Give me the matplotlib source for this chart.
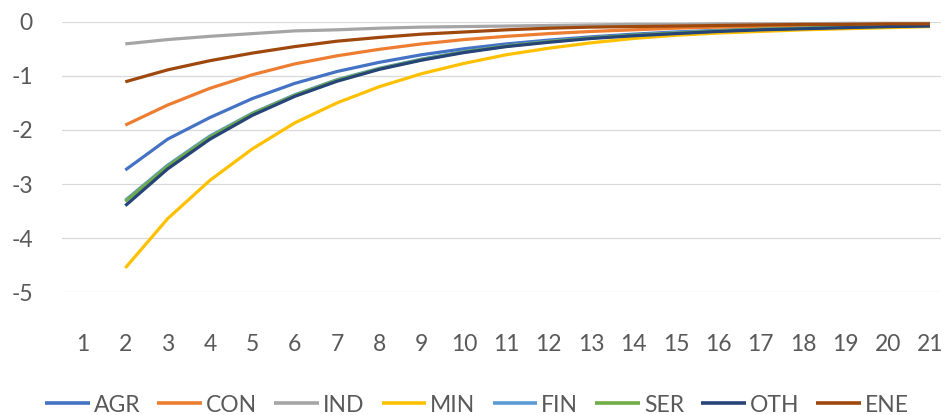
import numpy as np
import matplotlib
matplotlib.use("Agg")
import matplotlib.pyplot as plt

plt.rcParams['font.family'] = ['Lato', 'DejaVu Sans']

# ---- data (periods 1..21, no value at period 1) ------------------------------
periods = list(range(1, 22))
series_names = ["AGR", "CON", "IND", "MIN", "FIN", "SER", "OTH", "ENE"]
colors = ["#4472C4", "#ED7D31", "#A5A5A5", "#FFC000",
          "#5B9BD5", "#70AD47", "#264478", "#9E480E"]

AGR = [None, -2.74, -2.17, -1.77, -1.42, -1.14, -0.92, -0.75, -0.61, -0.50, -0.41,
       -0.34, -0.28, -0.23, -0.19, -0.16, -0.13, -0.11, -0.09, -0.08, -0.07]
CON = [None, -1.91, -1.54, -1.23, -0.98, -0.78, -0.63, -0.51, -0.41, -0.33, -0.27,
       -0.22, -0.18, -0.15, -0.12, -0.10, -0.09, -0.08, -0.07, -0.06, -0.05]
IND = [None, -0.41, -0.33, -0.27, -0.22, -0.17, -0.15, -0.12, -0.10, -0.09, -0.08,
       -0.07, -0.06, -0.05, -0.05, -0.04, -0.04, -0.04, -0.03, -0.03, -0.03]
MIN = [None, -4.55, -3.64, -2.93, -2.35, -1.87, -1.50, -1.20, -0.96, -0.77, -0.61,
       -0.49, -0.39, -0.31, -0.25, -0.21, -0.18, -0.15, -0.13, -0.11, -0.09]
FIN = [None, -3.30, -2.65, -2.11, -1.69, -1.35, -1.07, -0.86, -0.69, -0.55, -0.45,
       -0.36, -0.30, -0.25, -0.20, -0.17, -0.14, -0.12, -0.10, -0.08, -0.07]
SER = [None, -3.32, -2.67, -2.13, -1.70, -1.36, -1.08, -0.87, -0.70, -0.56, -0.45,
       -0.37, -0.30, -0.25, -0.21, -0.17, -0.14, -0.12, -0.10, -0.09, -0.07]
OTH = [None, -3.40, -2.72, -2.17, -1.73, -1.38, -1.10, -0.88, -0.71, -0.57, -0.46,
       -0.38, -0.31, -0.26, -0.22, -0.18, -0.15, -0.13, -0.11, -0.09, -0.08]
ENE = [None, -1.11, -0.89, -0.72, -0.58, -0.46, -0.36, -0.29, -0.23, -0.19, -0.15,
       -0.12, -0.10, -0.09, -0.08, -0.07, -0.06, -0.05, -0.05, -0.04, -0.04]

data = [AGR, CON, IND, MIN, FIN, SER, OTH, ENE]
yticks = [0, -1, -2, -3, -4, -5]

W, H = 944, 415
fig = plt.figure(figsize=(W / 100, H / 100), dpi=100)
ax = fig.add_axes([62 / W, (H - 292.3) / H, (941 - 62) / W, 270.6 / H])

for name, vals, c in zip(series_names, data, colors):
    y = np.array([np.nan if v is None else v for v in vals], float)
    ax.plot(periods, y, color=c, lw=2.3, label=name, clip_on=False,
            solid_capstyle="butt", zorder=3)

ax.set_ylim(-5, 0)
ax.set_xlim(0.505, 21.26)
ax.set_yticks(yticks)
ax.set_yticklabels([str(t) for t in yticks])
ax.set_xticks(periods)
ax.grid(axis="y", color="#D9D9D9", lw=0.9, zorder=0)
ax.set_axisbelow(True)
for s in ax.spines.values():
    s.set_visible(False)
ax.tick_params(axis="both", length=0, labelsize=16.5, labelcolor="#595959")
ax.tick_params(axis="y", pad=21)
ax.tick_params(axis="x", pad=30)

leg = fig.legend(loc="center", bbox_to_anchor=(0.5 + 5 / W, (H - 405) / H), ncol=8,
                 frameon=False, fontsize=16.5, handlelength=1.95,
                 handletextpad=0.17, columnspacing=0.75, borderaxespad=0)
for t in leg.get_texts():
    t.set_color("#595959")
for l in leg.get_lines():
    l.set_linewidth(2.6)

fig.savefig("out.png", dpi=100)
